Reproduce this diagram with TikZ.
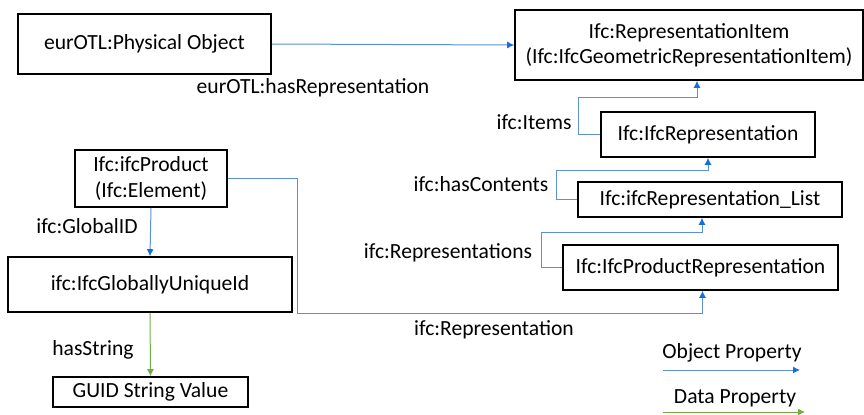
\documentclass[tikz,border=0pt]{standalone}
\usepackage{fontspec}
\setmainfont{Carlito}
\usepackage{tikz}
\usetikzlibrary{arrows.meta, calc, positioning}

\definecolor{objblue}{RGB}{91,143,214}
\definecolor{tipblue}{RGB}{20,110,225}
\definecolor{datagreen}{RGB}{112,173,71}

\begin{document}
\begin{tikzpicture}[x=0.5pt, y=-0.5pt,
    box/.style={draw, thick, inner sep=0pt, align=center, font=\fontsize{10.8}{12.6}\selectfont},
    lbl/.style={inner sep=0pt, font=\fontsize{10.8}{12.6}\selectfont},
    objprop/.style={-{Latex[length=3.5pt,width=3.5pt,color=tipblue]}, draw=objblue, line width=0.5pt},
    dataprop/.style={-{Latex[length=3.5pt,width=3.5pt]}, draw=datagreen, line width=0.5pt}]
    \useasboundingbox (0,0) rectangle (864,414);

    \node[box, minimum width=126.5pt, minimum height=30pt] (phys) at (144.5,44) {eurOTL:Physical Object};
    \node[box, minimum width=174pt, minimum height=35pt] (ritem) at (689,45) {Ifc:RepresentationItem\\(Ifc:IfcGeometricRepresentationItem)};
    \node[box, minimum width=107pt, minimum height=22.5pt] (irep) at (708,134.5) {Ifc:IfcRepresentation};
    \node[box, minimum width=132pt, minimum height=17.5pt] (rlist) at (710,199.5) {Ifc:ifcRepresentation\_List};
    \node[box, minimum width=137.5pt, minimum height=22.5pt] (prep) at (700.5,267.5) {Ifc:IfcProductRepresentation};
    \node[box, minimum width=76pt, minimum height=28.5pt] (prod) at (151,178.5) {Ifc:ifcProduct\\(Ifc:Element)};
    \node[box, minimum width=142pt, minimum height=27.5pt] (guid) at (150,284.5) {ifc:IfcGloballyUniqueId};
    \node[box, minimum width=97.5pt, minimum height=15pt] (gstr) at (150.5,392) {GUID String Value};

    % object properties
    \draw[objprop] (phys.east) -- (ritem.west);
    \draw[objprop] (irep.west) -- ++(-22,0) |- ([xshift=4pt,yshift=-8.5pt]ritem.south) -- ([xshift=4pt]ritem.south);
    \draw[objprop] (rlist.west) -- ++(-21,0) |- ([yshift=-6.5pt]irep.south) -- (irep.south);
    \draw[objprop] (prep.west) -- ++(-21,0) |- ([xshift=-4pt,yshift=-7.5pt]rlist.south) -- ([xshift=-4pt]rlist.south);
    \draw[objprop] (prod.east) -- ++(70,0) |- ([xshift=1pt,yshift=-11.5pt]prep.south) -- ([xshift=1pt]prep.south);
    \draw[objprop] (prod.south) -- (guid.north);
    % data property
    \draw[dataprop] (guid.south) -- (gstr.north);

    \node[lbl] (l-hasrep) at (313,88) {eurOTL:hasRepresentation};
    \node[lbl] (l-items) at (534,122) {ifc:Items};
    \node[lbl] (l-cont) at (481,184) {ifc:hasContents};
    \node[lbl] (l-reps) at (448,253) {ifc:Representations};
    \node[lbl] (l-rep) at (494,330) {ifc:Representation};
    \node[lbl] (l-gid) at (87,226) {ifc:GlobalID};
    \node[lbl] (l-str) at (93,350) {hasString};

    % legend
    \node[lbl] (leg-op) at (732,353) {Object Property};
    \node[lbl] (leg-dp) at (735,398) {Data Property};
    \coordinate (op1) at (663,370);
    \coordinate (op2) at (800,370);
    \coordinate (dp1) at (663,412);
    \coordinate (dp2) at (805,412);
    \draw[objprop] (op1) -- (op2);
    \draw[dataprop] (dp1) -- (dp2);
\end{tikzpicture}
\end{document}
